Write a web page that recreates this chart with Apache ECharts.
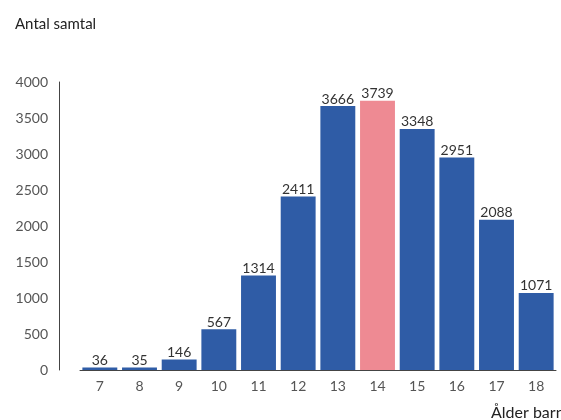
<!DOCTYPE html>
<html>
<head>
<meta charset="utf-8">
<script src="https://cdn.jsdelivr.net/npm/echarts@6/dist/echarts.min.js"></script>
<style>html,body{margin:0;padding:0;background:#fff}#c{width:561px;height:420px}</style>
</head>
<body>
<div id="c"></div>
<script>
var categories = ['7','8','9','10','11','12','13','14','15','16','17','18'];
var values = [36,35,146,567,1314,2411,3666,3739,3348,2951,2088,1071];
var highlightCategory = '14';
var yTicks = [0,500,1000,1500,2000,2500,3000,3500,4000];

var chart = echarts.init(document.getElementById('c'));
var font = 'Lato';
chart.setOption({
  animation: false,
  backgroundColor: '#fff',
  title: [
    {text: 'Antal samtal', left: 10, top: 12, textStyle: {fontFamily: font, fontSize: 15, fontWeight: 'normal', color: '#222'}},
    {text: 'Ålder barn', left: 486, top: 400, textStyle: {fontFamily: font, fontSize: 16, fontWeight: 'normal', color: '#222'}}
  ],
  grid: {left: 80, right: 5, top: 82, bottom: 50},
  xAxis: {
    type: 'category',
    data: categories,
    axisLine: {lineStyle: {color: '#444', width: 1}},
    axisTick: {show: false},
    axisLabel: {fontFamily: font, fontSize: 14, color: '#555', margin: 9}
  },
  yAxis: {
    type: 'value',
    min: yTicks[0], max: yTicks[yTicks.length-1], interval: yTicks[1]-yTicks[0],
    offset: 21,
    axisLine: {show: true, lineStyle: {color: '#444', width: 1}},
    axisTick: {show: false},
    splitLine: {show: false},
    axisLabel: {fontFamily: font, fontSize: 14, color: '#555', margin: 11, formatter: function (v) { return String(v); }}
  },
  series: [{
    type: 'bar',
    data: values,
    barCategoryGap: '12%',
    itemStyle: {
      color: function (p) { return categories[p.dataIndex] === highlightCategory ? '#ee8a93' : '#2f5ca6'; }
    },
    label: {show: true, position: 'top', distance: 0, fontFamily: font, fontSize: 14, color: '#333'}
  }]
});
</script>
</body>
</html>
